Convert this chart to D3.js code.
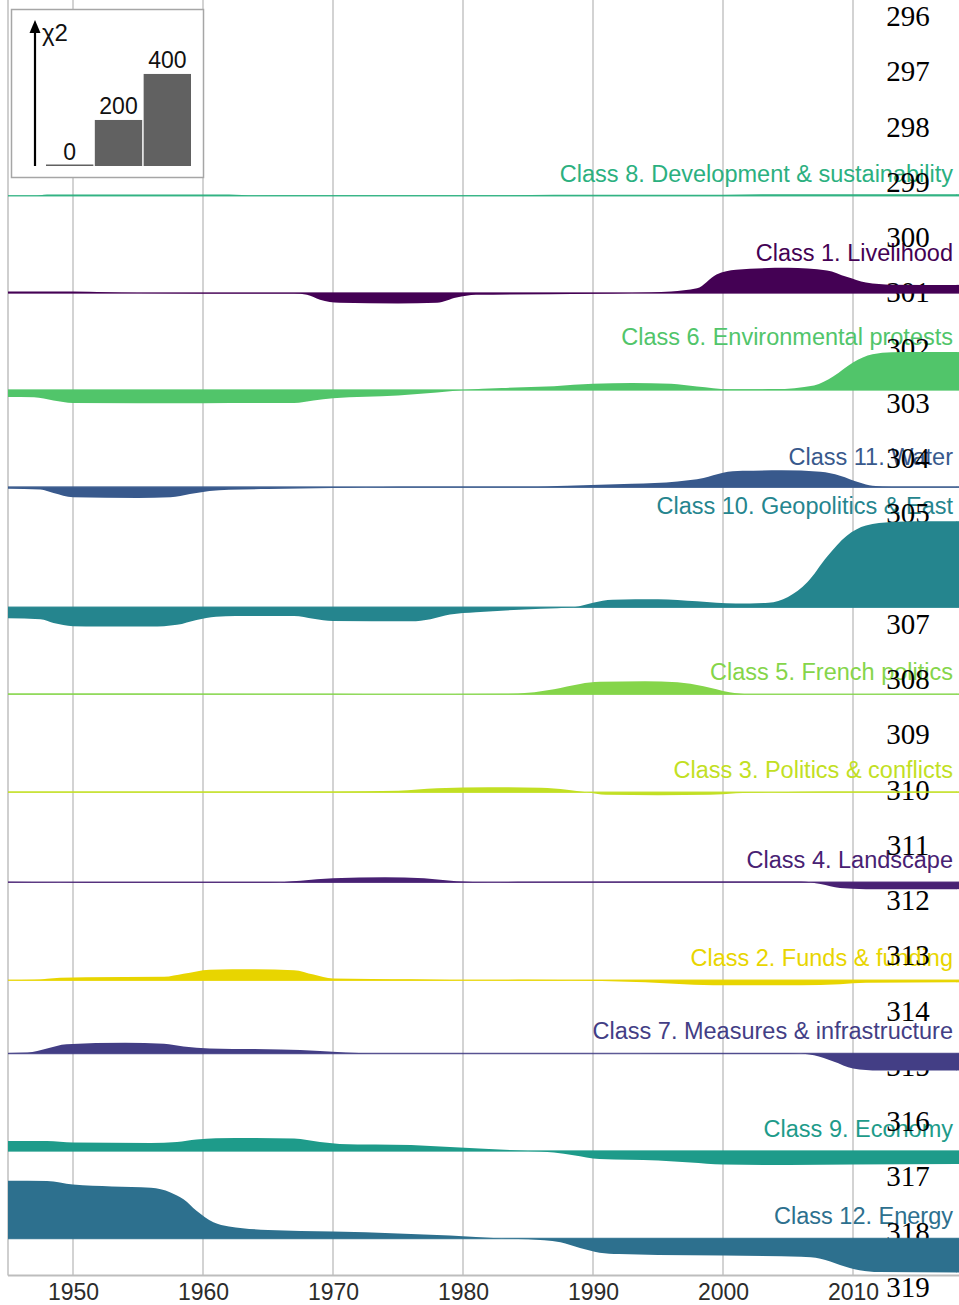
<!DOCTYPE html>
<html><head><meta charset="utf-8">
<script src="https://cdn.jsdelivr.net/npm/d3@7"></script>
<style>
html,body{margin:0;padding:0;background:#fff;}
svg{display:block;}
</style></head><body>
<svg id="chart" width="959" height="1305"></svg>
<script>
// ---------------- DATA ----------------
const classNames = [
  "Class 8. Development & sustainability",
  "Class 1. Livelihood",
  "Class 6. Environmental protests",
  "Class 11. Water",
  "Class 10. Geopolitics & East",
  "Class 5. French politics",
  "Class 3. Politics & conflicts",
  "Class 4. Landscape",
  "Class 2. Funds & funding",
  "Class 7. Measures & infrastructure",
  "Class 9. Economy",
  "Class 12. Energy"
];
const classColors = ["#2bb07f","#440154","#51c56a","#38598c","#25858e","#85d54a",
                     "#c2df23","#482173","#e8d500","#433e85","#1e9b8a","#2d708e"];
// vertical offset of each ridge, in chi-square units
const rowOffset = [4692, 4270, 3848, 3426, 2904, 2526, 2100, 1709, 1283, 965, 541, 161];

// [year, signed chi-square]
const class8  = [[1945,0],[1947,0],[1948,6],[1962,6],[1964,1],[1968,2],[1982,2],[1987,5],[2000,5],[2003,7],[2018,7]];
const class1  = [[1945,6.5],[1950,6.5],[1955,0],[1960,-2],[1967,-3],[1968,-8],[1969,-30],[1970.5,-43],[1975,-46],[1978,-43],[1979.5,-20],[1981,-8],[1990,-4],[1993,0],[1996,6.5],[1998,20],[1999.5,80],[2001,101],[2005,109],[2008,98],[2009.5,70],[2011,45],[2013,36],[2018,35]];
const class6  = [[1945,-30],[1947,-31],[1948.5,-45],[1950,-56],[1960,-57],[1967,-56],[1968.5,-45],[1970,-36],[1975,-24],[1978,-11],[1980,0],[1983,9],[1987,17],[1990,27],[1993,31],[1996,27],[1998,15],[2000.5,3],[2004,4],[2007,20],[2008.5,60],[2010,120],[2011.5,155],[2013,164],[2015,165],[2018,165]];
const class11 = [[1945,-6.5],[1947.5,-10],[1948.5,-25],[1950,-44],[1955,-47],[1957.5,-44],[1959,-30],[1960.5,-17],[1962,-11],[1965,-8],[1970,-4],[1975,2],[1985,2],[1988,6.5],[1993,15],[1996.5,25],[1998.5,40],[2000,63],[2001.5,71],[2004.5,73],[2007.5,67],[2009,50],[2010.5,20],[2011.5,6],[2013,2],[2018,2]];
const class10 = [[1945,-48],[1947.5,-52],[1948.5,-68],[1950,-82],[1952,-84],[1956,-84],[1958,-76],[1959.5,-55],[1961,-41],[1962.5,-38],[1967,-38],[1968.5,-50],[1970,-60],[1976,-61],[1977.5,-52],[1979,-32],[1981,-22],[1986,-6.5],[1988.5,0],[1990,20],[1991.5,33],[1995,35],[1998,26],[2001,16],[2003.5,20],[2005,45],[2006.5,110],[2008,220],[2009.5,310],[2011,355],[2013,370],[2015,374],[2018,374]];
const class5  = [[1945,3],[1970,2],[1975,1],[1983,2],[1985,6.5],[1987,22],[1989,45],[1990.5,54],[1994,57],[1996.5,52],[1998.5,35],[2000.5,9],[2002,1],[2018,2]];
const class3  = [[1945,3.5],[1970,3.5],[1975,6.5],[1978,17],[1982,22],[1986,19.5],[1988,11],[1989.5,0],[1991,-11],[1995,-13],[1999,-11],[2001,-4],[2004,0],[2008,3],[2018,3]];
const class4  = [[1945,2],[1949,0],[1951,-2],[1965,-2],[1967.5,6.5],[1970,17],[1974,22],[1977,17],[1979.5,4],[1982,0],[1985,2],[2006,3],[2007.5,-8],[2009,-25],[2011,-30],[2018,-30]];
const class2  = [[1945,0],[1947,2],[1949,11],[1951,13],[1957,15],[1958.5,28],[1960.5,46],[1964,48],[1967,44],[1968.5,25],[1970,8],[1976,4],[1980,0],[1985,2],[1990,-2],[1994,-9],[1997,-17],[2000,-22],[2006,-22],[2009,-17],[2011,-11],[2018,-9]];
const class7  = [[1945,2],[1946.5,4],[1948,22],[1949.5,40],[1954,46],[1957,42],[1958.5,30],[1960.5,22],[1966,17],[1969,11],[1971,4],[1973,1],[1980,1],[1992,0],[1995,1],[2005,2],[2007,-8],[2008.5,-35],[2010,-65],[2012,-74],[2018,-74]];
const class9  = [[1945,43.5],[1948,43.5],[1950,37],[1956,35],[1958,39],[1959.5,50],[1961,55],[1964,57],[1967,54],[1969,39],[1970.5,31],[1976,26],[1979,17],[1982,9],[1985,0],[1987,-6.5],[1988.5,-18],[1990.5,-35],[1995,-41],[1997.5,-50],[2000,-59],[2005,-61],[2010,-59],[2018,-56.5]];
const class12 = [[1945,251],[1948,250],[1950,234],[1953,226],[1956,220],[1957.5,200],[1958.5,170],[1959.5,120],[1960.8,70],[1962,52],[1965,37],[1970,30],[1975,22],[1979,13],[1983,0],[1985,-4],[1987.5,-17],[1989,-42],[1990.5,-62],[1992,-68],[1995,-72],[2000,-74],[2006,-80],[2007.5,-88],[2009,-115],[2010.5,-138],[2012,-146],[2018,-148]];

const seriesData = [class8, class1, class6, class11, class10, class5, class3, class4, class2, class7, class9, class12];
const decadeTicks = [1950, 1960, 1970, 1980, 1990, 2000, 2010];
const legendLevels = [0, 200, 400];
const lineNumbers = [296,297,298,299,300,301,302,303,304,305,306,307,308,309,310,311,312,313,314,315,316,317,318,319];

// ---------------- CHART ----------------
const W = 959, H = 1305;
const svg = d3.select("#chart");
const plotLeft = 8, plotBottom = 1275.5;

const x = d3.scaleLinear().domain([1945, 2018]).range([plotLeft, 957]);
const y = d3.scaleLinear().domain([0, 5543]).range([plotBottom, 0]); // chi-square stacked units

// grid lines
svg.append("g").selectAll("line").data(decadeTicks).join("line")
  .attr("x1", d => x(d)).attr("x2", d => x(d))
  .attr("y1", 0).attr("y2", plotBottom)
  .attr("stroke", "#d3d3d3").attr("stroke-width", 2);
svg.append("line").attr("x1", plotLeft).attr("x2", plotLeft).attr("y1", 0).attr("y2", plotBottom)
  .attr("stroke", "#cfcfcf").attr("stroke-width", 2);

// bottom axis
const axis = d3.axisBottom(x).tickValues(decadeTicks).tickFormat(d3.format("d")).tickSize(0).tickPadding(0);
const gAxis = svg.append("g").attr("transform", `translate(0,${plotBottom})`).call(axis);
gAxis.select(".domain").remove();
gAxis.selectAll("text").attr("font-family", "'Liberation Sans', Arial, sans-serif")
  .attr("font-size", 23).attr("fill", "#2b2b2b").attr("dy", null).attr("y", 24);
svg.append("line").attr("x1", plotLeft).attr("x2", W).attr("y1", plotBottom).attr("y2", plotBottom)
  .attr("stroke", "#bdbdbd").attr("stroke-width", 2);

// class labels
const labelRight = 953;
const gLabels = svg.append("g");
classNames.forEach((name, i) => {
  const t = gLabels.append("text").text(name)
    .attr("x", labelRight).attr("text-anchor", "end")
    .attr("font-family", "'Liberation Sans', Arial, sans-serif")
    .attr("font-size", 23.5).attr("fill", classColors[i]);
  const w = t.node().getComputedTextLength();
  const startYear = x.invert(labelRight - w);
  const maxPos = d3.max(seriesData[i].filter(d => d[0] >= startYear), d => Math.max(0, d[1])) || 0;
  const base = y(rowOffset[i]);
  const top = base - (y(0) - y(maxPos));
  t.attr("y", Math.min(top - 7, base - 14));
});

// line numbers
const ln = d3.scaleLinear().domain([296, 319]).range([26, 1297]);
svg.append("g").selectAll("text").data(lineNumbers).join("text")
  .attr("x", 908).attr("y", d => ln(d)).attr("text-anchor", "middle")
  .attr("font-family", "'Liberation Serif', 'Times New Roman', serif")
  .attr("font-size", 29).attr("fill", "#000").text(d => d);

// ridges
const gRidges = svg.append("g");
seriesData.forEach((series, i) => {
  const base = rowOffset[i];
  const area = d3.area()
    .x(d => x(d[0]))
    .y0(y(base))
    .y1(d => y(base + d[1]))
    .curve(d3.curveMonotoneX);
  gRidges.append("line")
    .attr("x1", x(1945)).attr("x2", W)
    .attr("y1", y(base)).attr("y2", y(base))
    .attr("stroke", classColors[i]).attr("stroke-width", 1.6).attr("stroke-opacity", 0.85);
  gRidges.append("path").datum(series)
    .attr("d", area).attr("fill", classColors[i]);
  const last = series[series.length - 1];
  gRidges.append("rect")
    .attr("x", x(last[0]) - 0.5).attr("width", W - x(last[0]) + 0.5)
    .attr("y", Math.min(y(base), y(base + last[1])))
    .attr("height", Math.abs(y(base) - y(base + last[1])))
    .attr("fill", classColors[i]);
});

// legend
const gLeg = svg.append("g");
gLeg.append("rect").attr("x", 11.5).attr("y", 9.5).attr("width", 192).attr("height", 168)
  .attr("fill", "#fff").attr("stroke", "#a6a6a6").attr("stroke-width", 1.5);
gLeg.append("line").attr("x1", 35).attr("x2", 35).attr("y1", 166).attr("y2", 30)
  .attr("stroke", "#000").attr("stroke-width", 2.2);
gLeg.append("path").attr("d", "M35,20 L29.5,33 L40.5,33 Z").attr("fill", "#000");
gLeg.append("text").attr("x", 42).attr("y", 41).text("χ2")
  .attr("font-family", "'Liberation Sans', Arial, sans-serif").attr("font-size", 24).attr("fill", "#111");
const lb = d3.scaleBand().domain(legendLevels).range([46, 191]).paddingInner(0.03);
const legBottom = 166;
gLeg.selectAll("rect.bar").data(legendLevels).join("rect").attr("class", "bar")
  .attr("x", d => lb(d)).attr("width", lb.bandwidth())
  .attr("y", d => legBottom - (y(0) - y(d)) - (d === 0 ? 1.5 : 0))
  .attr("height", d => (y(0) - y(d)) + (d === 0 ? 1.5 : 0))
  .attr("fill", "#616161");
gLeg.selectAll("text.lab").data(legendLevels).join("text").attr("class", "lab")
  .attr("x", d => lb(d) + lb.bandwidth() / 2)
  .attr("y", d => legBottom - (y(0) - y(d)) - 6)
  .attr("text-anchor", "middle")
  .attr("font-family", "'Liberation Sans', Arial, sans-serif").attr("font-size", 23).attr("fill", "#111")
  .text(d => d);
</script>
</body></html>
